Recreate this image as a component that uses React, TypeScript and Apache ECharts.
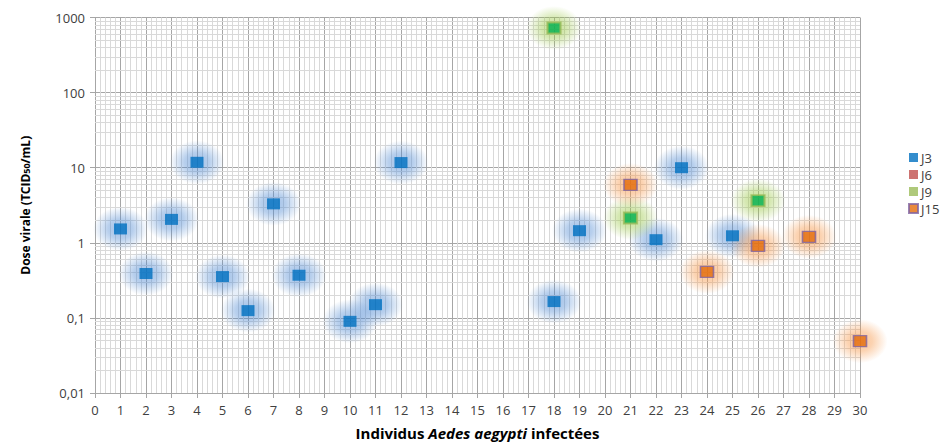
import React, { useEffect, useRef } from "react";
import * as echarts from "echarts";

const xTicks = Array.from({ length: 31 }, (_, i) => i);
const yTickLabels = ["0,01", "0,1", "1", "10", "100", "1000"];

const j3X = [1, 2, 3, 4, 5, 6, 7, 8, 10, 11, 12, 18, 19, 22, 23, 25];
const j3Y = [1.53, 0.39, 2.05, 11.8, 0.355, 0.125, 3.3, 0.37, 0.09, 0.15, 11.7, 0.165, 1.45, 1.1, 10, 1.24];

const j6X: number[] = [];
const j6Y: number[] = [];

const j9X = [18, 21, 26];
const j9Y = [724, 2.14, 3.65];

const j15X = [21, 24, 26, 28, 30];
const j15Y = [5.9, 0.41, 0.91, 1.2, 0.049];

const decades = [0.01, 0.1, 1, 10, 100];
const minorSteps = [2, 3, 4, 5, 6, 7, 8, 9];

const FONT = "'Open Sans', 'Liberation Sans', sans-serif";

function glow(rgb: string, a: number) {
  return new echarts.graphic.RadialGradient(0.5, 0.5, 0.5, [
    { offset: 0, color: `rgba(${rgb},${a})` },
    { offset: 0.45, color: `rgba(${rgb},${a * 0.75})` },
    { offset: 1, color: `rgba(${rgb},0)` },
  ]);
}

export default function App() {
  const ref = useRef<HTMLDivElement>(null);
  useEffect(() => {
    if (!ref.current) return;
    const chart = echarts.init(ref.current, undefined, { renderer: "svg" });
    const pairs = (xs: number[], ys: number[]) => xs.map((x, i) => [x, ys[i]]);
    const minorLines: any[] = [];
    decades.forEach((d) => minorSteps.forEach((k) => minorLines.push({ yAxis: +(k * d).toPrecision(3) })));

    const glowSeries = (name: string, xs: number[], ys: number[], rgb: string, a: number) => ({
      name,
      type: "scatter",
      z: 2,
      silent: true,
      symbol: "circle",
      symbolSize: [55, 44],
      data: pairs(xs, ys),
      itemStyle: { color: glow(rgb, a) },
    });

    chart.setOption({
      animation: false,
      backgroundColor: "#ffffff",
      grid: { left: 95, right: 83, top: 17.5, bottom: 40, containLabel: false },
      legend: {
        orient: "vertical",
        left: 903,
        top: 146,
        itemWidth: 9,
        itemHeight: 9,
        itemGap: 4,
        icon: "rect",
        data: [
          { name: "J3" },
          { name: "J6" },
          { name: "J9", itemStyle: { color: "#9BBB59", borderWidth: 0 } },
          { name: "J15" },
        ],
        textStyle: { fontFamily: FONT, fontSize: 13, color: "#404040", padding: [0, 0, 0, -2] },
      },
      xAxis: {
        type: "value",
        min: 0,
        max: 30,
        interval: 1,
        name: "{b|Individus }{bi|Aedes aegypti}{b| infectées}",
        nameLocation: "middle",
        nameGap: 32,
        nameTextStyle: {
          rich: {
            b: { fontFamily: FONT, fontWeight: "bold", fontSize: 15, color: "#000" },
            bi: { fontFamily: FONT, fontWeight: "bold", fontStyle: "italic", fontSize: 15, color: "#000" },
          },
        },
        axisLine: { show: true, lineStyle: { color: "#A6A6A6" } },
        axisTick: { show: true, length: 5, lineStyle: { color: "#A6A6A6" } },
        axisLabel: {
          fontFamily: FONT,
          fontSize: 13,
          color: "#404040",
          margin: 10,
          formatter: (v: number) => (xTicks.includes(v) ? String(v) : ""),
        },
        splitLine: { show: true, lineStyle: { color: "#A6A6A6", width: 1 } },
        minorTick: { show: false, splitNumber: 5 },
        minorSplitLine: { show: true, lineStyle: { color: "#D9D9D9", width: 1 } },
      },
      yAxis: {
        type: "log",
        logBase: 10,
        min: 0.01,
        max: 1000,
        name: "{b|Dose virale (TCID}{s|50}{b|/mL)}",
        nameLocation: "middle",
        nameGap: 64,
        nameRotate: 90,
        nameTextStyle: {
          rich: {
            b: { fontFamily: FONT, fontWeight: "bold", fontSize: 12, color: "#000" },
            s: { fontFamily: FONT, fontWeight: "bold", fontSize: 9, color: "#000", padding: [3, 0, 0, 0] },
          },
        },
        axisLine: { show: true, lineStyle: { color: "#A6A6A6" } },
        axisTick: { show: true, length: 5, lineStyle: { color: "#A6A6A6" } },
        axisLabel: {
          fontFamily: FONT,
          fontSize: 13,
          color: "#404040",
          margin: 10,
          formatter: (v: number) => {
            const idx = Math.round(Math.log10(v)) + 2;
            return yTickLabels[idx] ?? "";
          },
        },
        splitLine: { show: true, lineStyle: { color: "#A6A6A6", width: 1 } },
      },
      series: [
        {
          name: "minor",
          type: "scatter",
          data: [],
          z: 1,
          silent: true,
          markLine: {
            silent: true,
            z: 1,
            symbol: "none",
            animation: false,
            label: { show: false },
            lineStyle: { color: "#D9D9D9", width: 1, type: "solid" },
            data: minorLines,
          },
        },
        glowSeries("J3 glow", j3X, j3Y, "84,141,212", 0.7),
        glowSeries("J9 glow", j9X, j9Y, "155,200,70", 0.7),
        glowSeries("J15 glow", j15X, j15Y, "247,150,70", 0.7),
        {
          name: "J3",
          type: "scatter",
          z: 4,
          symbol: "rect",
          symbolSize: [13, 11],
          data: pairs(j3X, j3Y),
          itemStyle: { color: "#0070C0" },
        },
        {
          name: "J6",
          type: "scatter",
          z: 4,
          symbol: "rect",
          symbolSize: [13, 11],
          data: pairs(j6X, j6Y),
          itemStyle: { color: "#C0504D" },
        },
        {
          name: "J9",
          type: "scatter",
          z: 4,
          symbol: "rect",
          symbolSize: [13, 11],
          data: pairs(j9X, j9Y),
          itemStyle: { color: "#00B050", borderColor: "#9BBB59", borderWidth: 2 },
        },
        {
          name: "J15",
          type: "scatter",
          z: 4,
          symbol: "rect",
          symbolSize: [13, 11],
          data: pairs(j15X, j15Y),
          itemStyle: { color: "#E46C0A", borderColor: "#8064A2", borderWidth: 1.5 },
        },
      ],
    });
    return () => chart.dispose();
  }, []);
  return <div ref={ref} style={{ width: 943, height: 445, position: "absolute", left: 0, top: 0 }} />;
}
